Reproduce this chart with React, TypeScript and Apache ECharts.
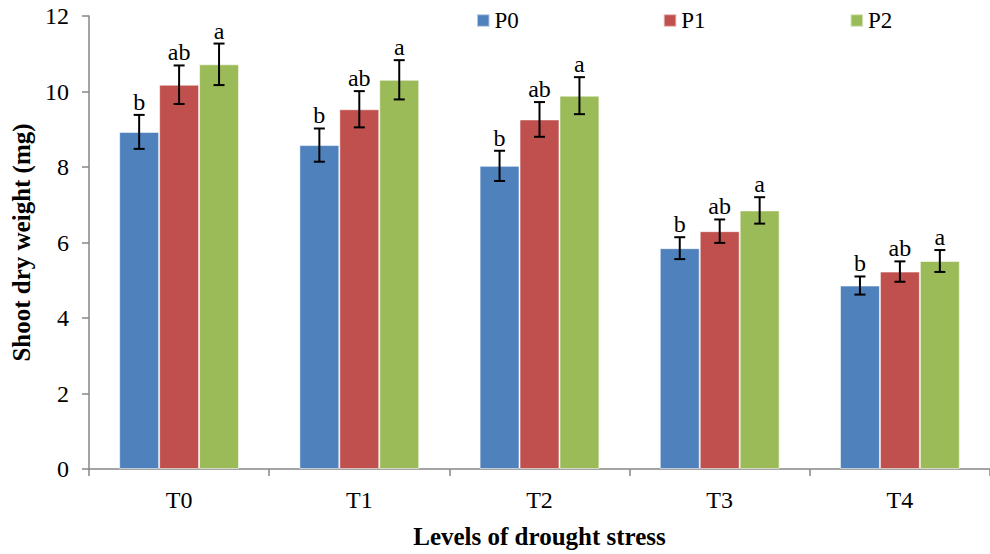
import React, { useEffect, useRef } from "react";
import * as echarts from "echarts";

const categories = ["T0", "T1", "T2", "T3", "T4"];
const seriesNames = ["P0", "P1", "P2"];
const p0 = [8.93, 8.58, 8.03, 5.85, 4.86];
const p1 = [10.18, 9.53, 9.26, 6.3, 5.23];
const p2 = [10.72, 10.31, 9.89, 6.85, 5.51];
const p0Err = [0.45, 0.44, 0.4, 0.29, 0.24];
const p1Err = [0.51, 0.48, 0.46, 0.31, 0.27];
const p2Err = [0.55, 0.52, 0.49, 0.35, 0.29];
const p0Letters = ["b", "b", "b", "b", "b"];
const p1Letters = ["ab", "ab", "ab", "ab", "ab"];
const p2Letters = ["a", "a", "a", "a", "a"];
const yTicks = [0, 2, 4, 6, 8, 10, 12];

const colors = ["#4F81BD", "#C0504D", "#9BBB59"];
const FONT = "'Liberation Serif', 'Times New Roman', serif";
const CAT_GAP = 0.335;

export default function App() {
  const ref = useRef<HTMLDivElement>(null);
  useEffect(() => {
    if (!ref.current) return;
    const chart = echarts.init(ref.current, null, { renderer: "svg" });
    const values = [p0, p1, p2];
    const errs = [p0Err, p1Err, p2Err];
    const letters = [p0Letters, p1Letters, p2Letters];

    const barSeries = values.map((vals, k) => ({
      name: seriesNames[k],
      type: "bar",
      data: vals,
      barGap: "0%",
      barCategoryGap: CAT_GAP * 100 + "%",
      itemStyle: {
        color: colors[k],
        borderColor: "rgba(255,255,255,0.55)",
        borderWidth: 1,
      },
    }));

    const errSeries = values.map((vals, k) => ({
      name: seriesNames[k] + "err",
      type: "custom",
      z: 5,
      data: vals.map((v, i) => [i, v, errs[k][i]]),
      encode: { x: 0, y: 1 },
      renderItem: (params: any, api: any) => {
        const idx = api.value(0);
        const v = api.value(1);
        const e = api.value(2);
        const band = api.size([1, 0])[0];
        const barW = (band * (1 - CAT_GAP)) / 3;
        const c = api.coord([idx, v]);
        const x = c[0] + (k - 1) * barW;
        const top = api.coord([idx, v + e])[1];
        const bot = api.coord([idx, v - e])[1];
        const cap = 5.5;
        const st = { stroke: "#000", lineWidth: 2 };
        return {
          type: "group",
          children: [
            { type: "line", shape: { x1: x, y1: top, x2: x, y2: bot }, style: st },
            { type: "line", shape: { x1: x - cap, y1: top, x2: x + cap, y2: top }, style: st },
            { type: "line", shape: { x1: x - cap, y1: bot, x2: x + cap, y2: bot }, style: st },
            {
              type: "text",
              x: x,
              y: top - 1,
              style: {
                text: letters[k][params.dataIndex],
                fill: "#000",
                font: "24px " + FONT,
                align: "center",
                verticalAlign: "bottom",
              },
            },
          ],
        };
      },
    }));

    chart.setOption({
      animation: false,
      backgroundColor: "#fff",
      textStyle: { fontFamily: FONT },
      grid: { left: 89, top: 16, width: 910, height: 458, containLabel: false },
      legend: {
        data: seriesNames,
        left: 471,
        top: 4,
        itemWidth: 12.5,
        itemHeight: 12.5,
        itemGap: 144,
        icon: "rect",
        textStyle: { fontFamily: FONT, fontSize: 23, color: "#000" },
      },
      xAxis: {
        type: "category",
        data: categories,
        name: "Levels of drought stress",
        nameLocation: "middle",
        nameGap: 55,
        nameTextStyle: { fontFamily: FONT, fontSize: 25, fontWeight: "bold", color: "#000" },
        axisLine: { lineStyle: { color: "#868686", width: 1.5 } },
        axisTick: { show: true, length: 7, lineStyle: { color: "#868686", width: 1.5 } },
        axisLabel: { fontFamily: FONT, fontSize: 24, color: "#000", margin: 19 },
      },
      yAxis: {
        type: "value",
        min: yTicks[0],
        max: yTicks[yTicks.length - 1],
        interval: yTicks[1] - yTicks[0],
        name: "Shoot dry weight (mg)",
        nameLocation: "middle",
        nameGap: 54,
        nameRotate: 90,
        nameTextStyle: { fontFamily: FONT, fontSize: 25, fontWeight: "bold", color: "#000" },
        splitLine: { show: false },
        axisLine: { show: true, lineStyle: { color: "#868686", width: 1.5 } },
        axisTick: { show: true, length: 7, lineStyle: { color: "#868686", width: 1.5 } },
        axisLabel: { fontFamily: FONT, fontSize: 24, color: "#000", margin: 20 },
      },
      series: [...barSeries, ...errSeries],
    });
    return () => chart.dispose();
  }, []);
  return (
    <div
      ref={ref}
      style={{ position: "absolute", left: 0, top: 0, width: 990, height: 554, background: "#fff" }}
    />
  );
}
